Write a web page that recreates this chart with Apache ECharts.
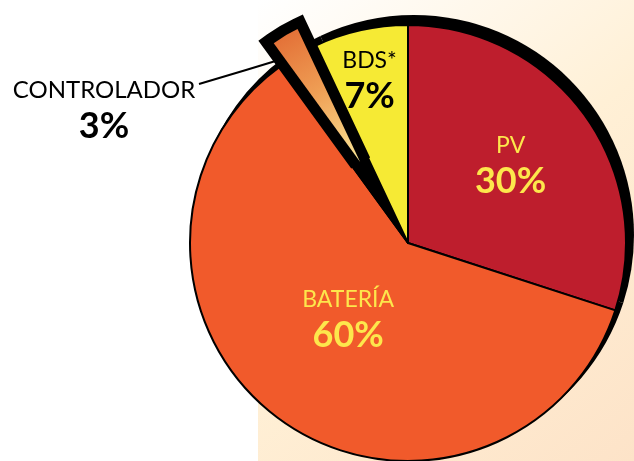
<!DOCTYPE html>
<html>
<head>
<meta charset="utf-8">
<script src="https://cdn.jsdelivr.net/npm/echarts@6/dist/echarts.min.js"></script>
<style>
html,body{margin:0;padding:0;background:#ffffff;}
#main{width:634px;height:461px;}
</style>
</head>
<body>
<div id="main"></div>
<script>
const categories = ['PV', 'BATERÍA', 'CONTROLADOR', 'BDS*'];
const values = [30, 60, 3, 7];
const sliceColors = ['#be1e2d', '#f15a2b', '#000000', '#f6ea34'];
const labelColors = ['#fde74c', '#fde74c', '#000000', '#000000'];
const explodedName = 'CONTROLADOR';

const chart = echarts.init(document.getElementById('main'), null, {renderer: 'canvas'});

const FONT = 'Lato, "Open Sans", sans-serif';
const CX = 408, CY = 243, R = 218;
const labelOffsets = [[12, -14], [6, -16], [0, 0], [-14, -55]];

// exploded slice geometry (derived from data)
const total = values.reduce(function (a, b) { return a + b; }, 0);
const exIdx = categories.indexOf(explodedName);
const before = values.slice(0, exIdx).reduce(function (a, b) { return a + b; }, 0);
const midTheta = (before + values[exIdx] / 2) / total * Math.PI * 2;
const EXPLODE = 94, EX_R = 147;
const exCenter = [CX + EXPLODE * Math.sin(midTheta), CY - EXPLODE * Math.cos(midTheta)];

const controladorFill = new echarts.graphic.LinearGradient(0, 0, 0.9, 1, [
  {offset: 0, color: '#e26a33'},
  {offset: 0.5, color: '#ef9f55'},
  {offset: 1, color: '#fbe393'}
]);

function richFor(i, nameSize) {
  return {
    n: {fontFamily: FONT, fontSize: nameSize || 23, fontWeight: 'normal', color: labelColors[i], lineHeight: 36, align: 'center'},
    v: {fontFamily: FONT, fontSize: 36, fontWeight: 'bold', color: labelColors[i], lineHeight: 36, align: 'center'}
  };
}

const mainData = categories.map(function (name, i) {
  const isEx = i === exIdx;
  return {
    name: name,
    value: values[i],
    itemStyle: {color: sliceColors[i], borderColor: '#000', borderWidth: 2},
    label: isEx ? {show: false} : {show: true, position: 'inside', offset: labelOffsets[i], formatter: '{n|{b}}\n{v|{c}%}', rich: richFor(i)},
    labelLine: {show: false}
  };
});

const frameData = categories.map(function (name, i) {
  const isEx = i === exIdx;
  return {
    name: name,
    value: values[i],
    itemStyle: isEx ? {color: '#000', borderColor: '#000', borderWidth: 22, borderJoin: 'miter'} : {color: 'rgba(0,0,0,0)', borderWidth: 0}
  };
});

const exData = categories.map(function (name, i) {
  const isEx = i === exIdx;
  return {
    name: name,
    value: values[i],
    itemStyle: isEx ? {color: controladorFill, borderWidth: 0} : {color: 'rgba(0,0,0,0)', borderWidth: 0},
    label: isEx ? {show: true, position: 'outside', formatter: '{n|{b}}\n{v|{c}%}', rich: richFor(i, 24)} : {show: false},
    labelLine: isEx ? {show: true, lineStyle: {color: '#000', width: 2}} : {show: false}
  };
});

const shadowData = categories.map(function (name, i) {
  return {name: name, value: values[i]};
});

chart.setOption({
  animation: false,
  backgroundColor: '#ffffff',
  graphic: [{
    type: 'rect',
    z: -10,
    silent: true,
    shape: {x: 258, y: 0, width: 376, height: 461},
    style: {
      fill: new echarts.graphic.LinearGradient(0, 0, 1, 1, [
        {offset: 0, color: '#ffffff'},
        {offset: 0.5, color: '#fff0d6'},
        {offset: 1, color: '#fde3c8'}
      ])
    }
  }],
  series: [
    {
      type: 'pie', name: 'shadow', silent: true, z: 1,
      center: [CX + 6, CY - 8], radius: R + 2,
      startAngle: 90, clockwise: true,
      label: {show: false}, labelLine: {show: false},
      itemStyle: {color: '#000', borderWidth: 0},
      emphasis: {disabled: true},
      data: shadowData
    },
    {
      type: 'pie', name: 'main', silent: true, z: 2,
      center: [CX, CY], radius: R,
      startAngle: 90, clockwise: true,
      emphasis: {disabled: true},
      avoidLabelOverlap: false,
      data: mainData
    },
    {
      type: 'pie', name: 'frame', silent: true, z: 3,
      center: exCenter, radius: EX_R,
      startAngle: 90, clockwise: true,
      label: {show: false}, labelLine: {show: false},
      emphasis: {disabled: true},
      data: frameData
    },
    {
      type: 'pie', name: 'exploded', silent: true, z: 4,
      center: exCenter, radius: EX_R,
      startAngle: 90, clockwise: true,
      emphasis: {disabled: true},
      avoidLabelOverlap: false,
      data: exData,
      labelLayout: function (params) {
        if (params.dataIndex === exIdx) {
          return {
            x: 104,
            y: 108,
            align: 'center',
            verticalAlign: 'middle',
            labelLinePoints: [[292, 56], [246, 70], [199, 84]]
          };
        }
        return {};
      }
    }
  ]
});
</script>
</body>
</html>
